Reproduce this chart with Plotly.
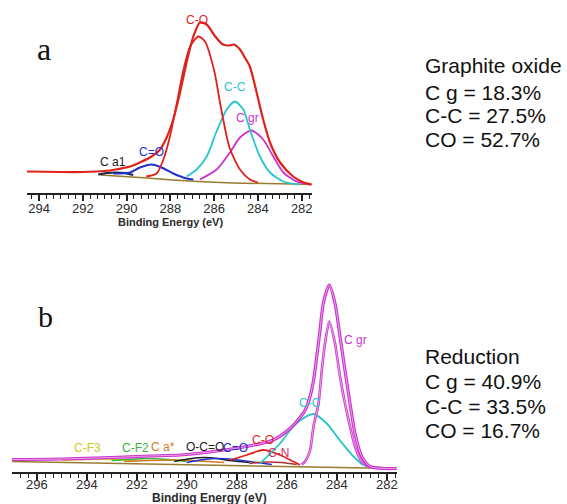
import plotly.graph_objects as go

# ---------------- Panel a: Graphite oxide (relative intensity, a.u.) ----------------
a_env_E = [294.55, 293, 292, 291, 290.5, 289.84, 289.4, 288.93, 288.47, 288.17, 287.87, 287.56, 287.26, 286.95, 286.65,
           286.34, 285.95, 285.6, 285.3, 285.1, 284.82, 284.6, 284.37, 284.06, 283.76, 283.45, 282.99, 282.39, 281.9, 281.55]
a_env_h = [21, 20.5, 20.5, 21.5, 23, 26, 30, 35, 43, 55, 73, 100, 130, 156, 170,
           168, 156, 148, 147, 148, 143, 135, 126, 100, 73, 50, 30, 16, 10, 8]
a_CO_E = [289.1, 288.63, 288.32, 288.02, 287.71, 287.41, 287.1, 286.72, 286.42, 286.0, 285.7, 285.3, 284.82, 284.37, 284.0]
a_CO_h = [16, 19, 33, 56, 89, 122, 146, 156, 151, 122, 86, 45, 23, 13, 10]
a_CC_E = [287.26, 286.8, 286.34, 285.89, 285.43, 285.05, 284.67, 284.37, 283.91, 283.45, 282.84, 282.1]
a_CC_h = [16, 23, 36, 61, 83, 91, 83, 63, 36, 20, 11, 8]
a_Cgr_E = [286.65, 285.89, 285.28, 284.82, 284.29, 283.76, 283.3, 282.84, 282.23, 281.6]
a_Cgr_h = [13, 23, 40, 55, 62, 53, 36, 20, 11, 8]
a_CdO_E = [290.6, 289.84, 289.39, 288.85, 288.4, 287.87, 287.26, 286.95]
a_CdO_h = [19, 20, 25, 28, 25, 19, 14, 13]
a_Ca1_E = [291.3, 290.9, 290.5, 290.1, 289.7]
a_Ca1_h = [18, 19.5, 20, 19.5, 17.5]
a_base_E = [291.2, 289.4, 287.9, 285.7, 281.55]
a_base_h = [17.5, 15, 12.5, 10, 8]

# ---------------- Panel b: Reduction ----------------
b_env_E = [297, 295, 293, 291.5, 290.27, 288.94, 287.6, 286.54, 285.87, 285.54, 285.27, 285.07, 284.93, 284.8, 284.67,
           284.54, 284.3, 284.07, 283.87, 283.67, 283.47, 283.27, 283.0, 282.67, 282.1, 281.6]
b_env_h = [12, 12.5, 14, 15.5, 16.5, 20, 25, 31.5, 43, 52, 61, 75, 91, 115, 141,
           168, 186.5, 168, 135, 101, 68, 38, 15, 5, 3, 3]
b_Cgr_E = [285.4, 285.27, 285.07, 284.93, 284.73, 284.6, 284.47, 284.3, 284.07, 283.87, 283.67, 283.47, 283.27, 283.0, 282.67]
b_Cgr_h = [7, 10, 21, 45, 68, 101, 128, 150, 128, 95, 68, 45, 25, 10, 4]
b_CC_E = [287.07, 286.27, 285.87, 285.47, 284.93, 284.4, 283.87, 283.33, 282.93, 282.6]
b_CC_h = [8, 28, 41, 51, 57.5, 48, 31, 15, 6.5, 4]
b_CO_E = [288.27, 287.6, 287.2, 286.93, 286.27, 285.74, 285.47]
b_CO_h = [11.5, 16.5, 20, 21.5, 16.5, 10, 6.5]
b_CN_E = [287.5, 286.8, 286.2, 285.6]
b_CN_h = [8, 9.5, 9, 7]
b_CF3_E = [295, 294, 293, 292]
b_CF3_h = [11, 12, 12, 11]
b_CF2_E = [293, 292, 291.5, 291, 290.5, 290]
b_CF2_h = [11, 12.5, 13, 12.5, 11.5, 10]
b_Ca_E = [292.5, 291.5, 290.5, 289.5, 288.5]
b_Ca_h = [10, 11, 11.5, 10.5, 9]
b_OCO_E = [290.5, 289.8, 289.3, 288.8, 288.3, 287.5]
b_OCO_h = [10, 13, 14, 13, 11, 9]
b_CdO_E = [290, 289.3, 288.8, 288.3, 287.8, 287.2, 286.6]
b_CdO_h = [9, 12, 13, 12.5, 11, 9, 7]
b_base_E = [297, 281.6]
b_base_h = [10, 3]

# label texts
a_labels = ["C-O", "C-C", "C gr", "C=O", "C a1"]
b_labels = ["C-F3", "C-F2", "C a*", "O-C=O", "C=O", "C-O", "C-N", "C-C", "C gr"]
a_summary = ["Graphite oxide", "C g = 18.3%", "C-C = 27.5%", "CO = 52.7%"]
b_summary = ["Reduction", "C g = 40.9%", "C-C = 33.5%", "CO = 16.7%"]
axis_title = "Binding Energy (eV)"

RED = "#e0221c"
CYAN = "#26c6cc"
MAG = "#cc33cc"
BLUE = "#2030c8"
BROWN = "#9a7a30"

fig = go.Figure()

def add(E, h, color, width, ax):
    fig.add_trace(go.Scatter(x=E, y=h, mode="lines", line=dict(color=color, width=width, shape="spline", smoothing=0.7),
                             xaxis="x" if ax == 1 else "x2", yaxis="y" if ax == 1 else "y2",
                             showlegend=False, hoverinfo="skip"))

# panel a
add(a_base_E, a_base_h, BROWN, 1.5, 1)
add(a_Ca1_E, a_Ca1_h, "#202040", 2, 1)
add(a_CdO_E, a_CdO_h, BLUE, 2, 1)
add(a_Cgr_E, a_Cgr_h, MAG, 1.8, 1)
add(a_CC_E, a_CC_h, CYAN, 1.8, 1)
add(a_CO_E, a_CO_h, RED, 1.8, 1)
add(a_env_E, a_env_h, RED, 2.2, 1)

# panel b
add(b_base_E, b_base_h, BROWN, 1.5, 2)
add(b_CF3_E, b_CF3_h, "#d6d020", 1.5, 2)
add(b_CF2_E, b_CF2_h, "#3cb43c", 1.5, 2)
add(b_Ca_E, b_Ca_h, "#d07a20", 1.5, 2)
add(b_OCO_E, b_OCO_h, "#202020", 1.5, 2)
add(b_CdO_E, b_CdO_h, BLUE, 1.5, 2)
add(b_CN_E, b_CN_h, "#b03030", 1.5, 2)
add(b_CO_E, b_CO_h, RED, 1.8, 2)
add(b_CC_E, b_CC_h, CYAN, 1.8, 2)
add(b_Cgr_E, b_Cgr_h, MAG, 2.6, 2)
add(b_Cgr_E, b_Cgr_h, "#f2c0f2", 0.8, 2)
add(b_env_E, b_env_h, MAG, 3.2, 2)
add(b_env_E, b_env_h, "#f2c0f2", 0.8, 2)

tickfont = dict(family="Arial", size=13, color="#2a2a2a")
def xaxis(rng, dom, anchor, standoff):
    return dict(range=rng, domain=dom, anchor=anchor, showgrid=False, zeroline=False,
                showline=True, linecolor="#222", linewidth=2, ticks="outside", ticklen=6, tickwidth=1.5,
                tickcolor="#222", dtick=2, tick0=0, tickfont=tickfont, ticklabelstandoff=standoff,
                minor=dict(dtick=1 / 3, ticks="outside", ticklen=4, tickwidth=1.2, tickcolor="#222"))

def yaxis(rng, dom, anchor):
    return dict(range=rng, domain=dom, anchor=anchor, visible=False, showgrid=False, zeroline=False)

fig.update_layout(
    width=567, height=504, margin=dict(l=0, r=0, t=0, b=0),
    paper_bgcolor="white", plot_bgcolor="white",
    xaxis=xaxis([294.55, 281.53], [0.0476, 0.5503], "y", -3),
    yaxis=yaxis([0, 183], [1 - 192.5 / 504, 1 - 9.5 / 504], "x"),
    xaxis2=xaxis([296.99, 281.59], [0.0212, 0.7002], "y2", -6),
    yaxis2=yaxis([0, 201], [1 - 471.5 / 504, 1 - 270.5 / 504], "x2"),
)

ann = []
a_lab_pos = [(286.79, 173, RED), (285.05, 106, CYAN), (284.46, 75, MAG), (288.84, 41, BLUE), (290.62, 31, "#202020")]
for t, (E, h, c) in zip(a_labels, a_lab_pos):
    ann.append(dict(x=E, y=h, xref="x", yref="y", text=t, showarrow=False, xanchor="center", yanchor="middle",
                    font=dict(family="Arial", size=12, color=c)))
b_lab_pos = [(293.99, 24, "#d0c820"), (292.07, 24, "#3cb43c"), (290.95, 25, "#d07a20"), (289.27, 25, "#202020"),
             (288.07, 24, BLUE), (286.95, 32, RED), (286.35, 19, "#cc3366"), (285.07, 69, CYAN), (283.27, 132, MAG)]
for t, (E, h, c) in zip(b_labels, b_lab_pos):
    ann.append(dict(x=E, y=h, xref="x2", yref="y2", text=t, showarrow=False, xanchor="center", yanchor="middle",
                    font=dict(family="Arial", size=12, color=c)))

def paper_text(px, py, text, size, family, xanchor="center", color="#111"):
    ann.append(dict(x=px / 567, y=1 - py / 504, xref="paper", yref="paper", text=text, showarrow=False,
                    xanchor=xanchor, yanchor="middle", font=dict(family=family, size=size, color=color)))

# axis titles
paper_text(170, 222, "<b>" + axis_title + "</b>", 11, "Arial", color="#2a2a2a")
paper_text(209, 498, "<b>" + axis_title + "</b>", 12, "Arial", color="#2a2a2a")

# panel letters
paper_text(44, 49, "a", 32, "Liberation Serif")
paper_text(45, 316, "b", 30, "Liberation Serif")

for t, py in zip(a_summary, [65, 92, 116, 139]):
    paper_text(423, py, t, 21, "Arial", xanchor="left")
for t, py in zip(b_summary, [356, 381, 406, 430]):
    paper_text(423, py, t, 21, "Arial", xanchor="left")

fig.update_layout(annotations=ann)
fig.write_html("out.html")
